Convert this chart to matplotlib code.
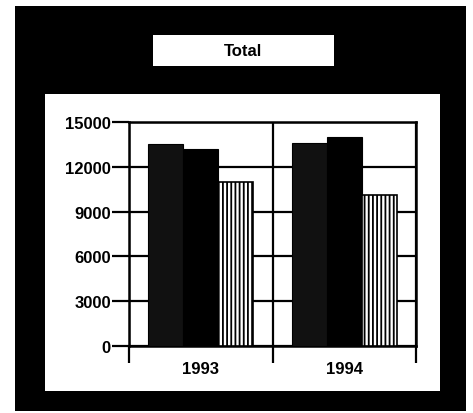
"""Grafico a barre "Total" per gli anni 1993 e 1994."""

import matplotlib
matplotlib.use("Agg")
import matplotlib.pyplot as plt
from matplotlib.patches import Rectangle
import numpy as np

plt.rcParams["font.family"] = ["Liberation Sans", "DejaVu Sans"]
plt.rcParams["font.weight"] = "bold"
plt.rcParams["hatch.linewidth"] = 1.3

# dati
years = ["1993", "1994"]
series_a = [13500, 13600]
series_b = [13200, 14000]
series_c = [11000, 10100]
y_ticks = [0, 3000, 6000, 9000, 12000, 15000]

W, H = 473, 414
fig = plt.figure(figsize=(W / 100, H / 100), dpi=100)
fig.patch.set_facecolor("white")


def px_rect(x0, y0, x1, y1, color):
    """Rettangolo in pixel (origine in alto a sinistra)."""
    fig.patches.append(Rectangle((x0 / W, 1 - y1 / H), (x1 - x0) / W, (y1 - y0) / H,
                                 transform=fig.transFigure, facecolor=color,
                                 edgecolor="none", zorder=-10))


px_rect(15, 7, 466, 412, "black")
px_rect(153, 36, 334, 67, "white")
px_rect(45, 95, 440, 392, "white")
fig.text(243.5 / W, 1 - 51.5 / H, "Total", ha="center", va="center",
         fontsize=12, fontweight="bold")

ax = fig.add_axes([129 / W, 1 - 347 / H, (416 - 129) / W, (347 - 123) / H])
ax.set_facecolor("white")

x = np.arange(len(years))
w = 0.244
ax.bar(x - w, series_a, w, color="#111111", edgecolor="black", linewidth=0.8, zorder=3)
ax.bar(x, series_b, w, color="black", edgecolor="black", linewidth=0.8, zorder=3)
ax.bar(x + w, series_c, w, color="white", edgecolor="black", linewidth=1.2,
       hatch="||||", zorder=3)

ax.set_xlim(-0.5, len(years) - 0.5)
ax.set_ylim(0, 15000)
ax.set_yticks(y_ticks)
ax.set_yticklabels([str(v) for v in y_ticks], fontsize=12, fontweight="bold")

ax.set_xticks(np.arange(len(years) + 1) - 0.5)
ax.set_xticklabels([])
ax.set_xticks(x, minor=True)
ax.set_xticklabels(years, minor=True, fontsize=12, fontweight="bold")

ax.tick_params(axis="y", which="major", length=12, width=1.6, pad=1, color="black")
ax.tick_params(axis="x", which="major", direction="out", length=12, width=1.6)
ax.tick_params(axis="x", which="minor", length=0, pad=11)

ax.grid(True, which="major", color="black", linewidth=1.6)
ax.set_axisbelow(True)
for spine in ax.spines.values():
    spine.set_linewidth(1.8)
    spine.set_color("black")

fig.savefig("out.png", dpi=100, facecolor=fig.get_facecolor())
